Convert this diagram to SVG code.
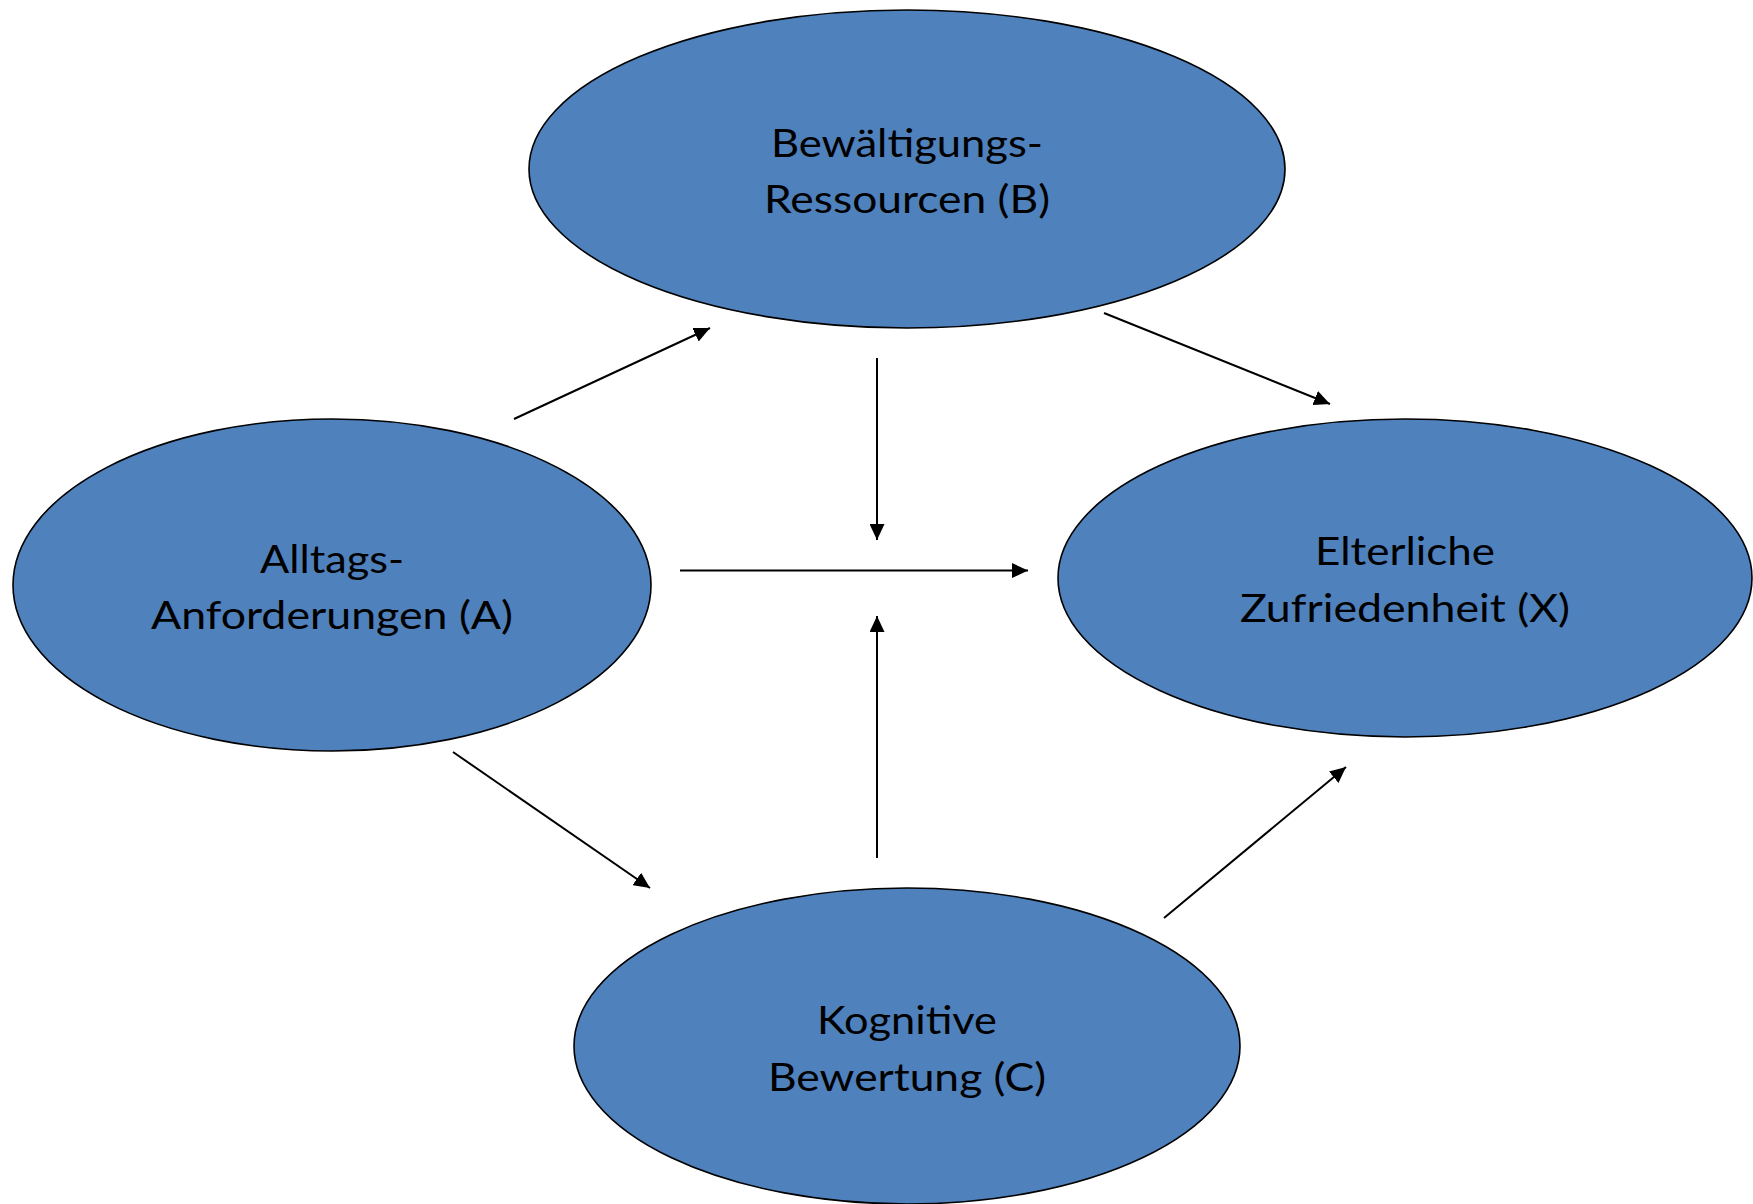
<svg xmlns="http://www.w3.org/2000/svg" width="1753" height="1204" viewBox="0 0 1753 1204">
<style>
.node ellipse{fill:#4F81BD;stroke:#000;stroke-width:1.6}
.node text{font-family:Lato,"Open Sans","Liberation Sans",sans-serif;font-size:38px;fill:#000;text-anchor:middle}
.conn line{stroke:#000;stroke-width:2}
</style>
<defs>
<marker id="ah" viewBox="0 0 16 15" refX="16" refY="7.5" markerWidth="16" markerHeight="15" markerUnits="userSpaceOnUse" orient="auto">
<path d="M0,0 L16,7.5 L0,15 Z" fill="#000"/>
</marker>
</defs>
<rect width="1753" height="1204" fill="#fff"/>
<g id="node-B" class="node">
<ellipse cx="907" cy="169" rx="378" ry="159"/>
<text x="907" y="157" textLength="272" lengthAdjust="spacingAndGlyphs">Bewältigungs-</text>
<text x="907" y="213" textLength="286" lengthAdjust="spacingAndGlyphs">Ressourcen (B)</text>
</g>
<g id="node-A" class="node">
<ellipse cx="332" cy="585" rx="319" ry="166"/>
<text x="332" y="573" textLength="144" lengthAdjust="spacingAndGlyphs">Alltags-</text>
<text x="332" y="629" textLength="362" lengthAdjust="spacingAndGlyphs">Anforderungen (A)</text>
</g>
<g id="node-X" class="node">
<ellipse cx="1405" cy="578" rx="347" ry="159"/>
<text x="1405" y="565" textLength="180" lengthAdjust="spacingAndGlyphs">Elterliche</text>
<text x="1405" y="622" textLength="330" lengthAdjust="spacingAndGlyphs">Zufriedenheit (X)</text>
</g>
<g id="node-C" class="node">
<ellipse cx="907" cy="1046" rx="333" ry="158"/>
<text x="907" y="1034" textLength="180" lengthAdjust="spacingAndGlyphs">Kognitive</text>
<text x="907" y="1091" textLength="278" lengthAdjust="spacingAndGlyphs">Bewertung (C)</text>
</g>
<g id="connectors" class="conn">
<line x1="514" y1="419" x2="710" y2="328" marker-end="url(#ah)"/>
<line x1="1104" y1="313" x2="1330" y2="404" marker-end="url(#ah)"/>
<line x1="877" y1="358" x2="877" y2="540" marker-end="url(#ah)"/>
<line x1="680" y1="570.5" x2="1028" y2="570.5" marker-end="url(#ah)"/>
<line x1="877" y1="858" x2="877" y2="616" marker-end="url(#ah)"/>
<line x1="453" y1="752" x2="650" y2="888" marker-end="url(#ah)"/>
<line x1="1164" y1="918" x2="1346" y2="767" marker-end="url(#ah)"/>
</g>
</svg>
